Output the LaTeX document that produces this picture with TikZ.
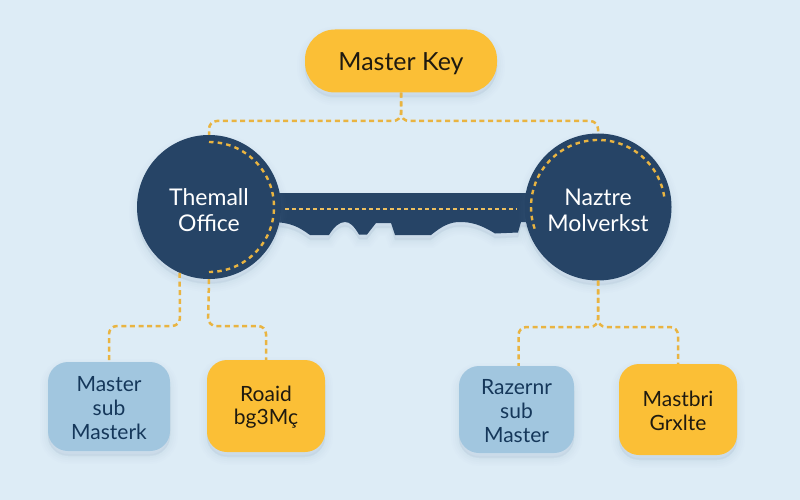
\documentclass[tikz,border=0pt]{standalone}
\usepackage{fontspec}
\setmainfont{Lato}
\definecolor{bgc}{HTML}{DDECF6}
\definecolor{navy}{HTML}{264466}
\definecolor{gold}{HTML}{FBBF36}
\definecolor{sky}{HTML}{A1C6DF}
\definecolor{dashc}{HTML}{E9B441}
\definecolor{inkblue}{HTML}{15375A}
\definecolor{inkdark}{HTML}{1F1A10}
\definecolor{shade}{HTML}{6F94B4}
\newcommand{\dropline}[1]{\rule{0pt}{#1}}
\tikzset{
  softshadow/.style={
    preaction={draw=shade,fill=shade,line width=16pt,opacity=.012,transform canvas={yshift=-5pt}},
    preaction={draw=shade,fill=shade,line width=12pt,opacity=.016,transform canvas={yshift=-5pt}},
    preaction={draw=shade,fill=shade,line width=8pt,opacity=.02,transform canvas={yshift=-5pt}},
    preaction={draw=shade,fill=shade,line width=4pt,opacity=.025,transform canvas={yshift=-5pt}},
    preaction={draw=shade,fill=shade,line width=1pt,opacity=.03,transform canvas={yshift=-4pt}}},
  link/.style={draw=dashc,line width=2.5pt,dash pattern=on 5pt off 3.6pt,rounded corners=8pt},
  stitch/.style={draw=dashc,line width=2.4pt,dash pattern=on 4.5pt off 4.2pt},
  hub/.style={circle,fill=navy,text=white,minimum size=144pt,inner sep=0pt,align=center,
    font=\fontsize{23}{26}\selectfont,softshadow},
  pill/.style={rounded corners=30pt,fill=gold,text=inkdark,minimum width=192pt,minimum height=63pt,
    inner sep=0pt,font=\fontsize{25}{30}\selectfont,softshadow},
  leafbox/.style={rounded corners=20pt,inner sep=0pt,align=center,
    font=\fontsize{21}{23.7}\selectfont,softshadow},
  bluebox/.style={leafbox,fill=sky,text=inkblue},
  goldbox/.style={leafbox,fill=gold,text=inkdark},
}
\begin{document}
\begin{tikzpicture}[x=1pt,y=-1pt]
\useasboundingbox (0,0) rectangle (800,500);
\fill[bgc] (0,0) rectangle (800,500);

% key shaft
\path[fill=navy,softshadow] (270,193) -- (535,193) -- (535,222) -- (521,222) -- (518,232.5) -- (495,233.5)
  .. controls (480,224) and (470,222) .. (460,222)
  .. controls (450,222) and (442,226) .. (431,235)
  -- (395,235) -- (391,223) -- (376,223) -- (367,234.5) -- (359,234.5)
  .. controls (354,226) and (350,222) .. (345,222)
  .. controls (339,222) and (334,227) .. (329,235)
  -- (310,235) .. controls (300,228) and (292,222) .. (270,222) -- cycle;

% nodes
\node[pill] (master) at (401,61) {\dropline{23pt}Master Key};
\node[hub] (thermal) at (209,207) {\dropline{23pt}Themall\\Office};
\node[hub,minimum size=147pt] (naztre) at (598,207) {\dropline{23pt}Naztre\\Molverkst};
\node[bluebox,minimum width=122pt,minimum height=89pt] (b1) at (109,406.5) {\dropline{18pt}Master\\sub\\Masterk};
\node[goldbox,minimum width=118pt,minimum height=92pt] (b2) at (266,406) {\dropline{18pt}Roaid\\bg3Mç};
\node[bluebox,minimum width=115pt,minimum height=87pt] (b3) at (516.5,409.5) {\dropline{18pt}Razernr\\sub\\Master};
\node[goldbox,minimum width=118pt,minimum height=91pt] (b4) at (678,409.5) {\dropline{18pt}Mastbri\\Grxlte};

% routing points
\coordinate (topbus) at (401,121);
\coordinate (lbusA) at (180,326);
\coordinate (lbusB) at (208,326);
\coordinate (rbus) at (598,327);

% connectors
\draw[link] (master.south) -- (topbus) -| (thermal.north);
\draw[link] (master.south) -- (topbus) -| (naztre.north);
\draw[link] (thermal.246) -- (lbusA) -| (b1.north);
\draw[link] (thermal.south) -- (lbusB) -| (b2.north);
\draw[link] (naztre.south) -- (rbus) -| ([xshift=2pt]b3.north);
\draw[link] (naztre.south) -- (rbus) -| (b4.north);

% stitching on the key
\draw[stitch] (thermal.center) ++(0,-65) arc[start angle=-90,end angle=90,radius=65];
\draw[stitch] (naztre.center) ++(66.2,-10.5) arc[start angle=-9,end angle=-202,radius=67];
\draw[stitch,line width=2pt,draw=dashc!85!white,dash pattern=on 4pt off 3pt,shorten >=7pt,shorten <=4pt]
  ([yshift=-1.5pt]thermal.east) -- ([yshift=-1.5pt]naztre.west);
\end{tikzpicture}
\end{document}
